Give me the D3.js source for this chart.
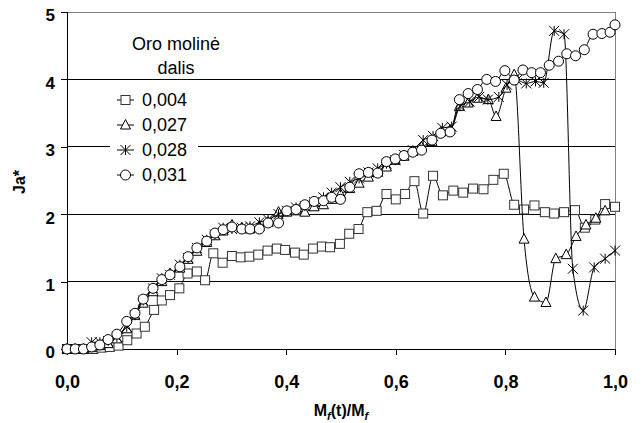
<!DOCTYPE html>
<html>
<head>
<meta charset="utf-8">
<script src="https://cdn.jsdelivr.net/npm/d3@7"></script>
<style>
  html, body { margin: 0; padding: 0; background: #fff; }
  svg { display: block; }
  text { font-family: "Liberation Sans", Arial, sans-serif; fill: #000; }
</style>
</head>
<body>
<svg id="chart" width="644" height="423"></svg>
<script>
// Oro molinė dalis 0,004 (squares)
const sqX = [0.000,0.015,0.030,0.048,0.063,0.078,0.094,0.110,0.127,0.142,0.159,0.173,0.188,0.205,0.220,0.237,0.252,0.267,0.284,0.301,0.317,0.333,0.349,0.366,0.383,0.398,0.416,0.432,0.449,0.465,0.480,0.498,0.515,0.532,0.548,0.565,0.583,0.600,0.617,0.634,0.650,0.668,0.686,0.705,0.723,0.741,0.760,0.778,0.797,0.816,0.834,0.853,0.872,0.889,0.907,0.927,0.945,0.964,0.982,1.000];
const sqY = [0,0,0,0,0.02,0.03,0.05,0.13,0.23,0.33,0.58,0.72,0.80,0.90,1.12,1.15,1.02,1.42,1.28,1.38,1.36,1.37,1.40,1.46,1.49,1.47,1.43,1.40,1.49,1.52,1.51,1.56,1.71,1.78,2.03,2.05,2.30,2.22,2.30,2.49,2.01,2.57,2.28,2.35,2.32,2.38,2.37,2.51,2.60,2.14,2.07,2.13,2.03,2.01,2.03,2.06,1.80,1.92,2.15,2.11];

// 0,027 (triangles)
const trX = [0.000,0.015,0.030,0.045,0.060,0.075,0.091,0.109,0.124,0.139,0.157,0.173,0.188,0.206,0.221,0.237,0.255,0.270,0.285,0.301,0.319,0.334,0.351,0.367,0.386,0.401,0.418,0.434,0.451,0.468,0.483,0.499,0.516,0.533,0.550,0.567,0.583,0.599,0.615,0.631,0.647,0.666,0.682,0.699,0.716,0.732,0.749,0.769,0.783,0.801,0.816,0.834,0.853,0.874,0.892,0.911,0.929,0.947,0.965,0.982];
const trY = [0,0,0,0.02,0.05,0.08,0.15,0.30,0.50,0.68,0.85,1.00,1.12,1.20,1.33,1.45,1.58,1.68,1.75,1.84,1.80,1.78,1.82,1.88,2.03,2.03,2.05,2.03,2.11,2.14,2.22,2.30,2.38,2.46,2.55,2.62,2.70,2.80,2.86,2.93,3.00,3.08,3.22,3.25,3.60,3.65,3.72,3.70,3.45,3.87,4.07,1.63,0.77,0.69,1.34,1.40,1.67,1.84,1.94,2.05];

// 0,028 (asterisks)
const stX = [0.000,0.015,0.030,0.045,0.060,0.075,0.091,0.109,0.124,0.139,0.157,0.173,0.188,0.206,0.221,0.237,0.255,0.270,0.285,0.301,0.319,0.334,0.351,0.367,0.386,0.401,0.418,0.434,0.451,0.468,0.483,0.499,0.516,0.533,0.550,0.567,0.583,0.599,0.615,0.631,0.650,0.668,0.685,0.702,0.717,0.735,0.752,0.768,0.788,0.803,0.821,0.838,0.855,0.870,0.889,0.907,0.923,0.942,0.962,0.982,1.000];
const stY = [0,0,0,0.10,0.10,0.12,0.18,0.33,0.50,0.72,0.90,1.05,1.10,1.25,1.35,1.50,1.62,1.70,1.80,1.78,1.80,1.82,1.88,1.92,2.00,2.05,2.10,2.12,2.18,2.25,2.32,2.40,2.48,2.53,2.62,2.68,2.75,2.80,2.88,2.95,3.10,3.16,3.28,3.30,3.60,3.67,3.74,3.70,3.74,3.92,3.99,3.94,3.97,3.95,4.72,4.67,1.19,0.57,1.21,1.34,1.46];

// 0,031 (circles)
const ciX = [0.000,0.015,0.030,0.045,0.060,0.075,0.091,0.109,0.124,0.139,0.157,0.173,0.188,0.206,0.221,0.237,0.255,0.270,0.285,0.301,0.319,0.334,0.351,0.367,0.386,0.401,0.418,0.434,0.451,0.468,0.483,0.499,0.516,0.533,0.550,0.567,0.583,0.599,0.615,0.631,0.647,0.666,0.682,0.699,0.716,0.732,0.749,0.766,0.782,0.799,0.816,0.832,0.848,0.864,0.880,0.897,0.912,0.928,0.944,0.960,0.976,0.991,1.000];
const ciY = [0,0,0,0.03,0.06,0.14,0.22,0.41,0.53,0.74,0.90,1.03,1.10,1.22,1.37,1.50,1.60,1.72,1.77,1.81,1.78,1.78,1.78,1.87,1.87,2.05,2.07,2.14,2.19,2.20,2.25,2.22,2.40,2.60,2.62,2.61,2.78,2.82,2.87,2.92,2.95,3.10,3.20,3.22,3.70,3.79,3.85,4.00,3.97,4.13,3.99,4.14,4.10,4.10,4.21,4.27,4.38,4.35,4.44,4.67,4.68,4.70,4.81];

const legendTitle = ["Oro molinė", "dalis"];
const seriesNames = ["0,004", "0,027", "0,028", "0,031"];
const xTicks = [0, 0.2, 0.4, 0.6, 0.8, 1.0];
const yTicks = [0, 1, 2, 3, 4, 5];

const series = [
  { name: seriesNames[0], xs: sqX, ys: sqY, marker: "square" },
  { name: seriesNames[1], xs: trX, ys: trY, marker: "triangle" },
  { name: seriesNames[2], xs: stX, ys: stY, marker: "star" },
  { name: seriesNames[3], xs: ciX, ys: ciY, marker: "circle" }
];

const svg = d3.select("#chart");
const plot = { left: 67, right: 615, top: 12, bottom: 349 };

const x = d3.scaleLinear().domain([0, 1]).range([plot.left, plot.right]);
const y = d3.scaleLinear().domain([0, 5]).range([plot.bottom, plot.top]);

const fmt = d => d3.format(".1f")(d).replace(".", ",");

// horizontal grid lines
svg.append("g")
  .selectAll("line")
  .data(yTicks.filter(v => v > 0 && v < 5))
  .join("line")
  .attr("x1", plot.left).attr("x2", plot.right)
  .attr("y1", d => y(d)).attr("y2", d => y(d))
  .attr("stroke", "#000").attr("stroke-width", 1)
  .attr("shape-rendering", "crispEdges");

// plot frame: gray top and right edges
svg.append("path")
  .attr("d", `M${plot.left},${plot.top}H${plot.right}V${plot.bottom}`)
  .attr("fill", "none").attr("stroke", "#808080").attr("stroke-width", 1)
  .attr("shape-rendering", "crispEdges");

// x axis
const xAxis = svg.append("g")
  .attr("transform", `translate(0,${plot.bottom})`)
  .call(d3.axisBottom(x).tickValues(xTicks).tickSize(6).tickPadding(20).tickFormat(fmt));
xAxis.select(".domain").attr("stroke", "#000").attr("shape-rendering", "crispEdges");
xAxis.selectAll(".tick line").attr("stroke", "#000").attr("shape-rendering", "crispEdges");
xAxis.selectAll(".tick text")
  .attr("font-family", "Liberation Sans, Arial, sans-serif")
  .attr("font-size", 18).attr("font-weight", "bold").attr("fill", "#000")
  .attr("dy", "0.71em");

// y axis
const yAxis = svg.append("g")
  .attr("transform", `translate(${plot.left},0)`)
  .call(d3.axisLeft(y).tickValues(yTicks).tickSize(6).tickPadding(6).tickFormat(d3.format("d")));
yAxis.select(".domain").attr("stroke", "#000").attr("shape-rendering", "crispEdges");
yAxis.selectAll(".tick line").attr("stroke", "#000").attr("shape-rendering", "crispEdges");
yAxis.selectAll(".tick text")
  .attr("font-family", "Liberation Sans, Arial, sans-serif")
  .attr("font-size", 17).attr("font-weight", "bold").attr("fill", "#000")
  .attr("dy", "0.52em");

// axis titles
const xt = svg.append("text")
  .attr("x", (plot.left + plot.right) / 2).attr("y", 416)
  .attr("text-anchor", "middle")
  .attr("font-size", 16).attr("font-weight", "bold");
xt.append("tspan").text("M");
xt.append("tspan").text("f").attr("font-style", "italic").attr("font-size", 11).attr("dy", 4);
xt.append("tspan").text("(t)/M").attr("dy", -4);
xt.append("tspan").text("f").attr("font-style", "italic").attr("font-size", 11).attr("dy", 4);

svg.append("text")
  .attr("transform", "translate(25,182) rotate(-90)")
  .attr("text-anchor", "middle")
  .attr("font-size", 16).attr("font-weight", "bold")
  .text("Ja*");

// marker shapes
function drawMarker(g, type, cx, cy) {
  if (type === "square") {
    g.append("rect").attr("x", cx - 4.5).attr("y", cy - 4.5)
      .attr("width", 9).attr("height", 9)
      .attr("fill", "#fff").attr("stroke", "#333").attr("stroke-width", 1);
  } else if (type === "triangle") {
    g.append("path")
      .attr("d", `M${cx},${cy - 5.5}L${cx + 5},${cy + 4}L${cx - 5},${cy + 4}Z`)
      .attr("fill", "#fff").attr("stroke", "#000").attr("stroke-width", 1);
  } else if (type === "star") {
    const s = 5;
    g.append("path")
      .attr("d", `M${cx - s},${cy - s}L${cx + s},${cy + s}M${cx - s},${cy + s}L${cx + s},${cy - s}M${cx},${cy - s}L${cx},${cy + s}`)
      .attr("fill", "none").attr("stroke", "#000").attr("stroke-width", 1);
  } else {
    g.append("circle").attr("cx", cx).attr("cy", cy).attr("r", 5)
      .attr("fill", "#fff").attr("stroke", "#000").attr("stroke-width", 1);
  }
}

// smoothed connecting lines without overshoot at sharp peaks
const line = d3.line()
  .x(d => x(d[0])).y(d => y(d[1]))
  .curve(d3.curveMonotoneX);

const seriesG = svg.append("g");
series.forEach(s => {
  const pts = s.xs.map((v, i) => [v, s.ys[i]]);
  const g = seriesG.append("g");
  g.append("path").attr("d", line(pts))
    .attr("fill", "none").attr("stroke", "#000").attr("stroke-width", 1);
  pts.forEach(p => drawMarker(g, s.marker, x(p[0]), y(p[1])));
});

// legend
const lg = svg.append("g");
lg.append("rect").attr("x", 110).attr("y", 88).attr("width", 88).attr("height", 100)
  .attr("fill", "#fff");
lg.selectAll("text.title")
  .data(legendTitle)
  .join("text")
  .attr("class", "title")
  .attr("x", 176).attr("y", (d, i) => 50 + i * 24)
  .attr("text-anchor", "middle")
  .attr("font-size", 18)
  .text(d => d);
series.forEach((s, i) => {
  const cy = 100 + i * 25;
  const g = lg.append("g");
  g.append("line").attr("x1", 117).attr("x2", 134).attr("y1", cy).attr("y2", cy)
    .attr("stroke", "#000").attr("stroke-width", 1);
  drawMarker(g, s.marker, 125.5, cy);
  g.append("text").attr("x", 142).attr("y", cy).attr("dy", "0.36em")
    .attr("font-size", 18).text(s.name);
});
</script>
</body>
</html>
